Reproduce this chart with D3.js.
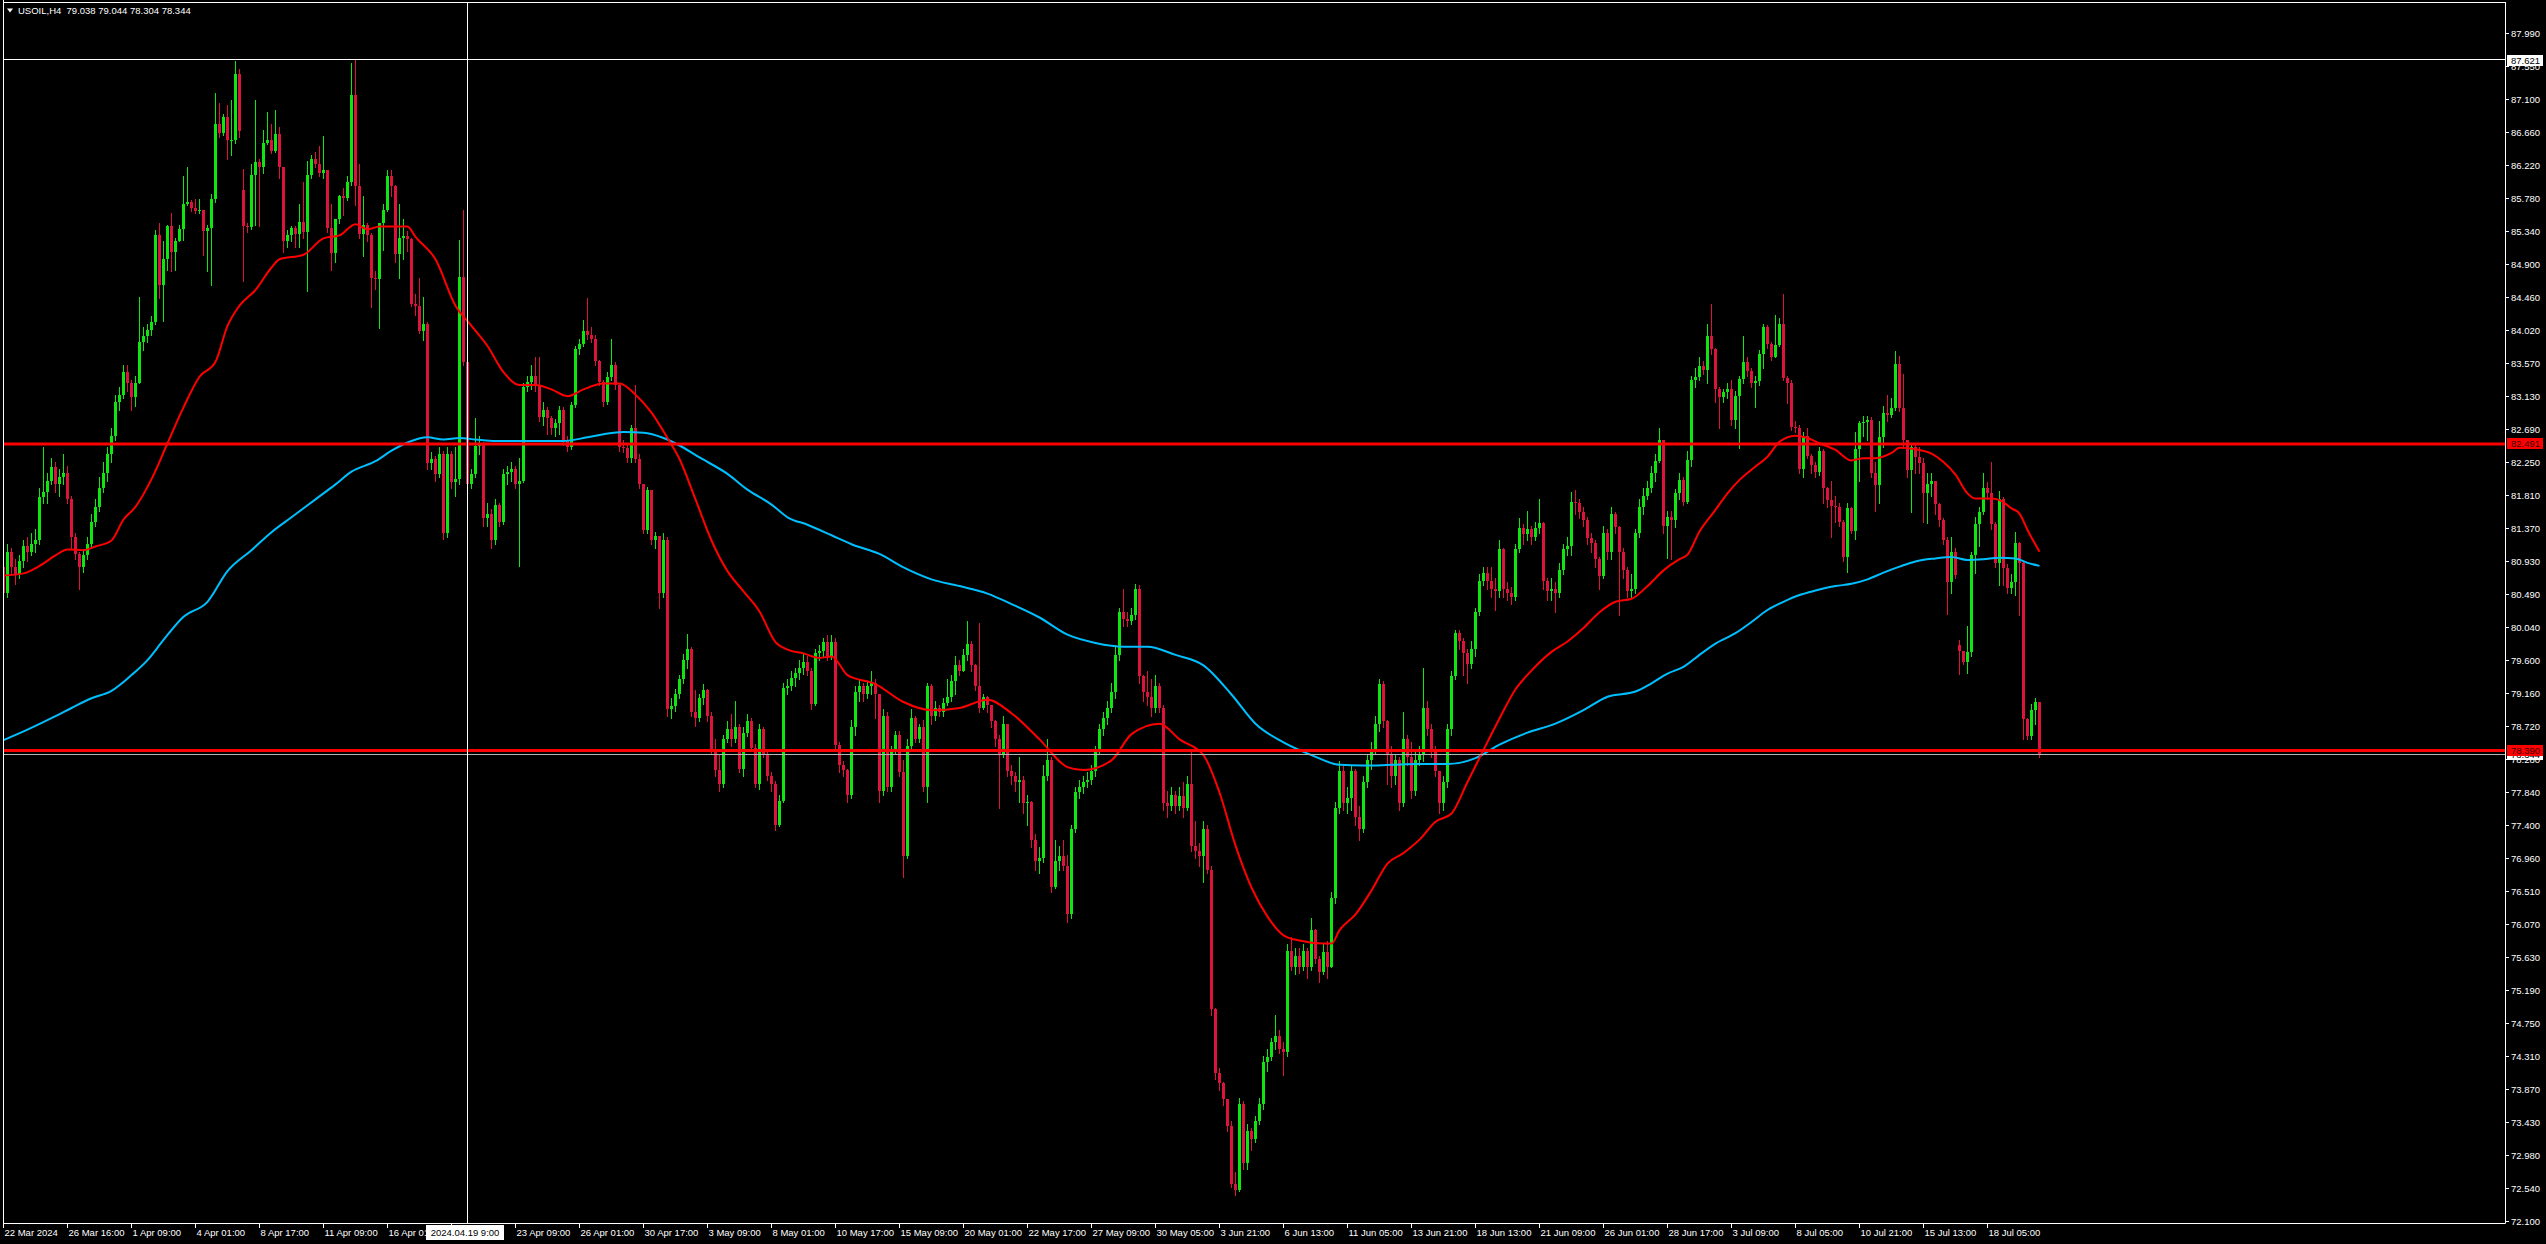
<!DOCTYPE html>
<html><head><meta charset="utf-8">
<script src="https://cdn.jsdelivr.net/npm/d3@7"></script>
<style>html,body{margin:0;padding:0;background:#000;overflow:hidden}</style>
</head><body>
<svg id="c" width="2546" height="1244" xmlns="http://www.w3.org/2000/svg"></svg>
<script>
// ---------------- DATA ----------------
const titleText = "USOIL,H4  79.038 79.044 78.304 78.344";
const firstOpen = 80.85;
// [high, low, close] per H4 bar, open = previous close unless listed in gapOpens
const candles = [
[80.95,80.42,80.50],[81.15,80.45,81.05],[81.10,80.75,80.85],[80.95,80.62,80.75],[81.00,80.70,80.92],[81.20,80.85,81.12],[81.25,80.92,81.05],[81.30,81.00,81.15],[81.35,81.05,81.20],[81.90,81.15,81.78],
[82.45,81.70,81.85],[82.10,81.70,82.00],[82.30,81.95,82.18],[82.25,81.85,81.95],[82.15,81.80,82.05],[82.35,81.95,82.10],[82.20,81.70,81.75],[81.80,81.10,81.25],[81.30,80.95,81.02],[81.05,80.55,80.85],
[81.08,80.78,81.00],[81.25,80.95,81.15],[81.55,81.10,81.45],[81.75,81.40,81.65],[82.05,81.60,81.90],[82.25,81.85,82.10],[82.45,82.00,82.35],[82.70,82.25,82.60],[83.15,82.55,83.05],[83.25,82.95,83.15],
[83.55,83.10,83.45],[83.55,83.20,83.30],[83.35,82.95,83.12],[83.40,83.00,83.30],[84.46,83.30,83.85],[84.05,83.75,83.93],[84.10,83.85,84.02],[84.20,83.95,84.12],[85.35,84.10,85.28],[85.44,84.44,84.62],
[85.20,84.13,84.96],[85.42,84.82,85.41],[85.58,84.80,85.06],[85.25,84.82,85.20],[85.42,85.20,85.37],[86.07,85.22,85.70],[86.19,85.68,85.72],[85.75,85.60,85.64],[85.76,85.58,85.61],[85.77,85.58,85.62],
[85.62,85.02,85.34],[85.42,84.80,85.38],[85.83,84.62,85.77],[87.18,85.72,86.77],[87.05,86.60,86.65],[86.90,86.62,86.86],[87.02,86.30,86.55],[87.09,86.36,86.56],[87.61,86.52,87.44],[87.51,86.59,86.68],
[86.17,84.67,85.41],[85.45,85.32,85.39],[86.24,85.37,86.09],[87.09,85.42,86.26],[86.30,85.41,86.20],[86.69,86.12,86.51],[86.93,86.50,86.55],[86.77,86.38,86.41],[86.96,86.40,86.64],[86.73,86.05,86.20],
[86.20,85.06,85.20],[85.35,85.13,85.29],[85.40,85.20,85.38],[85.40,85.13,85.30],[85.70,85.13,85.46],[86.00,85.25,85.32],[86.27,84.53,86.09],[86.36,86.05,86.30],[86.40,86.20,86.24],[86.48,86.08,86.11],
[86.61,86.05,86.15],[86.15,85.32,85.38],[85.70,84.82,85.05],[85.50,84.93,85.50],[85.82,85.45,85.80],[85.91,85.55,85.78],[86.07,85.75,85.99],[87.59,85.95,87.16],[87.63,85.68,85.94],[86.23,85.25,85.30],
[85.81,85.00,85.42],[85.45,85.20,85.29],[85.31,84.32,84.71],[84.80,84.56,84.70],[85.45,84.04,85.44],[85.70,85.08,85.62],[86.15,85.60,86.07],[86.15,85.81,85.94],[85.95,84.92,85.03],[85.70,84.71,85.25],
[85.50,84.96,85.27],[85.34,85.07,85.23],[85.25,84.34,84.36],[84.49,84.22,84.34],[84.71,83.97,84.00],[84.46,83.88,84.10],[84.12,82.15,82.23],[82.38,82.15,82.29],[82.33,82.00,82.09],[82.45,82.05,82.36],
[82.40,81.22,81.30],[82.45,81.25,82.36],[82.40,81.90,81.98],[82.45,81.80,82.02],[85.22,81.95,84.72],[85.62,83.55,83.59],[83.62,81.85,81.95],[82.15,81.90,82.09],[82.84,82.05,82.47],[82.60,82.35,82.50],
[82.52,81.40,81.50],[81.70,81.40,81.55],[81.62,81.10,81.20],[81.75,81.15,81.68],[81.70,81.40,81.45],[82.15,81.42,82.09],[82.20,81.95,82.12],[82.25,82.00,82.16],[82.20,81.90,81.95],[82.30,80.86,82.00],
[83.30,81.98,83.25],[83.40,83.20,83.32],[83.55,83.22,83.40],[83.66,83.20,83.28],[83.66,82.80,82.85],[83.05,82.74,82.95],[82.98,82.62,82.84],[82.86,82.62,82.70],[82.82,82.60,82.77],[83.00,82.62,82.94],
[82.98,82.48,82.55],[82.60,82.40,82.45],[83.05,82.42,83.01],[83.80,82.98,83.76],[83.90,83.70,83.83],[84.15,83.80,84.00],[84.44,83.90,83.95],[84.05,83.85,83.90],[83.95,83.55,83.60],[83.62,83.28,83.32],
[83.35,83.00,83.05],[83.45,83.02,83.38],[83.90,83.35,83.55],[83.58,83.22,83.28],[83.30,82.40,82.45],[82.55,82.38,82.43],[82.50,82.25,82.30],[82.75,82.25,82.70],[83.28,82.25,82.29],[82.36,81.90,81.95],
[81.95,81.30,81.34],[81.92,81.30,81.88],[81.88,81.15,81.20],[81.32,81.10,81.26],[81.26,80.30,80.50],[81.30,80.45,81.20],[81.24,78.85,78.95],[79.10,78.82,78.98],[79.22,78.92,79.15],[79.40,79.10,79.35],
[79.68,79.30,79.60],[79.95,79.50,79.75],[79.78,78.85,78.90],[79.20,78.72,78.82],[79.15,78.78,79.10],[79.28,79.02,79.20],[79.22,78.78,78.85],[78.90,78.35,78.41],[78.54,78.05,78.13],[78.34,77.85,77.95],
[78.60,77.90,78.54],[78.78,78.50,78.68],[78.88,78.45,78.55],[79.05,78.50,78.70],[78.75,78.10,78.15],[78.70,78.05,78.62],[78.88,78.58,78.78],[78.82,78.38,78.42],[78.48,77.90,77.95],[78.75,77.88,78.68],
[78.70,78.30,78.35],[78.40,78.00,78.05],[78.10,77.85,77.95],[77.98,77.33,77.40],[77.80,77.38,77.72],[79.30,77.70,79.23],[79.35,79.15,79.25],[79.45,79.20,79.36],[79.50,79.25,79.43],[79.60,79.35,79.50],
[79.70,79.42,79.57],[79.65,79.40,79.45],[79.50,78.95,79.02],[79.75,79.00,79.70],[79.80,79.60,79.72],[79.90,79.65,79.84],[79.94,79.60,79.65],[79.94,79.62,79.84],[79.90,78.40,78.47],[78.50,78.10,78.20],
[78.25,78.05,78.13],[78.15,77.70,77.80],[78.80,77.75,78.70],[79.25,78.60,79.18],[79.35,79.05,79.25],[79.30,79.05,79.15],[79.32,79.10,79.25],[79.45,79.15,79.30],[79.35,78.82,79.15],[79.15,77.70,77.85],
[78.95,77.80,78.85],[78.90,77.85,77.90],[78.45,77.85,78.40],[78.65,78.35,78.60],[78.65,78.05,78.10],[78.26,76.70,76.98],[78.55,76.95,78.45],[78.95,78.40,78.82],[78.85,78.50,78.55],[78.75,78.50,78.70],
[78.80,77.85,77.90],[79.30,77.70,79.25],[79.28,78.75,78.85],[79.05,78.80,78.96],[79.00,78.85,78.90],[79.10,78.85,79.03],[79.35,79.00,79.11],[79.40,79.05,79.32],[79.65,79.15,79.53],[79.60,79.40,79.46],
[79.75,79.45,79.67],[80.12,79.60,79.81],[79.85,79.45,79.53],[79.55,79.20,79.25],[80.10,78.90,78.96],[79.15,78.95,79.11],[79.12,78.90,79.00],[79.00,78.70,78.78],[78.80,78.45,78.54],[78.60,77.62,78.33],
[78.85,78.30,78.75],[78.75,78.05,78.12],[78.20,77.95,78.05],[78.10,77.85,77.97],[78.30,77.70,78.00],[78.05,77.55,77.69],[77.80,77.40,77.70],[77.72,77.10,77.20],[77.27,76.80,76.91],[77.10,76.75,76.95],
[78.20,76.90,78.05],[78.55,78.00,78.26],[78.30,76.50,76.56],[77.20,76.55,76.91],[77.12,76.80,76.98],[77.20,76.80,76.85],[77.00,76.10,76.20],[77.40,76.15,77.34],[77.90,77.30,77.83],[78.00,77.75,77.90],
[78.05,77.82,77.97],[78.10,77.90,78.00],[78.20,77.95,78.12],[78.45,78.05,78.40],[78.75,78.35,78.68],[78.90,78.60,78.82],[79.05,78.75,78.96],[79.30,78.90,79.18],[79.80,79.10,79.67],[80.30,79.60,80.24],
[80.55,80.05,80.15],[80.25,80.05,80.12],[80.30,80.08,80.20],[80.62,80.15,80.55],[80.60,79.30,79.39],[79.40,79.05,79.18],[79.45,79.00,79.11],[79.35,78.85,78.96],[79.40,78.90,79.25],[79.30,78.90,78.96],
[79.00,77.60,77.69],[77.85,77.50,77.65],[77.90,77.60,77.80],[77.85,77.55,77.65],[77.90,77.60,77.78],[77.97,77.50,77.62],[78.05,77.60,77.95],[78.40,77.05,77.12],[77.45,76.95,77.05],[77.15,76.85,76.98],
[77.45,76.63,77.34],[77.40,76.75,76.80],[76.85,74.85,74.93],[74.95,74.00,74.08],[74.15,73.85,73.94],[73.96,73.65,73.73],[73.62,73.30,73.37],[73.44,72.55,72.59],[72.75,72.45,72.52],[73.75,72.50,73.66],
[73.70,72.80,72.88],[73.40,72.80,73.30],[73.35,73.05,73.20],[73.50,73.15,73.44],[73.75,73.40,73.66],[74.30,73.60,74.22],[74.40,74.10,74.29],[74.55,74.25,74.50],[74.85,74.40,74.58],[74.65,74.35,74.40],
[74.50,74.05,74.36],[75.80,74.30,75.71],[75.90,75.45,75.50],[75.75,75.40,75.64],[75.75,75.42,75.50],[75.80,75.45,75.71],[75.75,75.35,75.50],[76.15,75.45,75.99],[76.00,75.55,75.60],[75.65,75.30,75.43],
[75.80,75.40,75.70],[75.85,75.35,75.50],[76.50,75.50,76.42],[77.70,76.35,77.62],[78.25,77.55,78.12],[78.20,77.60,77.69],[77.90,77.55,77.75],[78.20,77.60,78.12],[78.15,77.40,77.50],[77.65,77.20,77.34],
[78.05,77.30,77.97],[78.35,77.90,78.26],[78.50,78.15,78.40],[78.85,78.35,78.75],[79.35,78.65,79.28],[79.32,78.70,78.78],[78.80,77.95,78.35],[78.45,77.90,78.05],[78.35,77.95,78.26],[78.30,77.60,77.69],
[78.90,77.65,78.54],[78.60,78.20,78.30],[78.50,77.75,77.85],[78.40,77.80,78.26],[78.45,78.20,78.33],[79.50,78.25,78.96],[79.05,78.60,78.68],[78.75,78.30,78.40],[78.45,78.05,78.12],[78.10,77.55,77.69],
[78.05,77.60,77.97],[78.75,77.90,78.68],[79.45,78.60,79.39],[80.00,79.35,79.96],[80.00,79.75,79.85],[79.90,79.40,79.70],[79.75,79.30,79.55],[79.85,79.50,79.75],[80.30,79.65,80.24],[80.75,80.20,80.66],
[80.85,80.60,80.77],[80.85,80.55,80.66],[80.85,80.45,80.55],[80.70,80.27,80.52],[81.20,80.45,81.09],[81.10,80.45,80.55],[80.65,80.40,80.50],[80.58,80.35,80.45],[81.15,80.40,81.09],[81.50,81.05,81.37],
[81.42,81.15,81.28],[81.60,81.20,81.35],[81.40,81.15,81.25],[81.45,81.20,81.37],[81.75,81.30,81.44],[81.45,80.55,80.66],[80.70,80.40,80.52],[80.70,80.40,80.55],[80.65,80.25,80.50],[80.90,80.45,80.80],
[81.15,80.75,81.09],[81.25,81.00,81.12],[81.85,81.00,81.72],[81.87,81.55,81.70],[81.75,81.50,81.58],[81.65,81.40,81.48],[81.52,81.15,81.23],[81.30,81.05,81.16],[81.20,80.85,80.95],[80.98,80.55,80.73],
[81.40,80.70,81.30],[81.35,80.95,81.05],[81.65,80.95,81.55],[81.58,81.30,81.38],[81.40,80.20,81.05],[81.10,80.70,80.80],[80.85,80.45,80.52],[80.75,80.45,80.55],[81.35,80.50,81.30],[81.75,81.25,81.65],
[81.90,81.55,81.80],[82.00,81.75,81.90],[82.20,81.85,82.10],[82.35,82.00,82.26],[82.70,82.25,82.54],[82.55,81.30,81.40],[81.60,80.96,81.52],[81.60,80.95,81.47],[81.89,81.38,81.83],[82.10,81.75,82.01],
[82.05,81.68,81.72],[82.40,81.70,82.28],[83.40,82.20,83.35],[83.50,83.25,83.38],[83.65,83.35,83.53],[83.60,83.42,83.48],[84.10,83.30,83.93],[84.36,83.70,83.76],[83.78,83.05,83.22],[83.25,82.70,83.12],
[83.22,83.05,83.19],[83.30,83.10,83.23],[83.35,82.75,82.81],[83.20,82.70,83.13],[83.40,82.43,83.36],[83.93,83.30,83.59],[83.65,83.40,83.47],[83.50,83.25,83.30],[83.40,82.98,83.33],[83.75,83.28,83.69],
[84.10,83.50,84.06],[84.08,83.78,83.83],[83.85,83.62,83.66],[84.21,83.65,83.81],[84.17,83.80,84.09],[84.50,83.35,83.37],[83.40,83.04,83.30],[83.35,82.68,82.72],[82.80,82.65,82.70],[82.75,82.10,82.15],
[82.65,82.05,82.60],[82.70,82.30,82.33],[82.35,82.10,82.21],[82.25,82.05,82.12],[82.45,82.08,82.39],[82.42,81.70,81.90],[81.92,81.65,81.74],[82.00,81.25,81.66],[81.80,81.45,81.65],[81.70,81.40,81.45],
[81.47,80.93,80.98],[81.70,80.78,81.63],[81.65,81.30,81.33],[82.65,81.22,82.42],[82.80,82.00,82.77],[82.86,82.60,82.79],[82.87,82.55,82.81],[82.85,82.05,82.10],[82.25,81.60,81.94],[82.80,81.70,82.59],
[83.00,82.45,82.90],[83.15,82.80,82.88],[83.10,82.85,82.97],[83.73,82.95,83.56],[83.67,82.93,82.97],[83.43,82.45,82.54],[82.55,82.05,82.14],[82.50,81.58,82.45],[82.50,82.10,82.31],[82.45,82.10,82.24],
[82.30,81.45,81.83],[82.10,81.43,81.95],[82.10,81.80,81.99],[81.95,81.55,81.69],[81.70,81.40,81.47],[81.50,81.15,81.20],[81.25,80.22,80.65],[81.25,80.50,81.05],[81.10,80.70,80.74],[79.87,79.42,79.72],
[79.72,79.55,79.58],[80.05,79.43,79.71],[81.05,79.65,81.01],[81.52,80.77,81.42],[81.65,81.13,81.58],[82.10,81.55,81.90],[81.98,81.75,81.83],[82.25,81.35,81.42],[81.45,80.85,80.90],[81.86,80.60,81.76],
[81.78,80.60,80.83],[80.88,80.50,80.56],[80.75,80.50,80.65],[81.32,80.47,81.16],[81.18,80.20,80.90],[80.93,78.55,78.81],[78.83,78.54,78.59],[79.02,78.55,78.93],[79.10,78.75,79.038],[79.044,78.304,78.344]
];
const gapOpens = [[60, 85.89], [489, 79.80]];

// moving averages: [bar, value]
const maFast = [[0,80.73],[5,80.76],[9,80.86],[13,81.00],[16,81.08],[20,81.07],[23,81.12],[27,81.20],[30,81.48],[33,81.65],[37,82.02],[41,82.50],[45,82.98],[49,83.39],[53,83.59],[56,84.07],[59,84.34],[63,84.55],[67,84.85],[69,84.96],[75,85.02],[80,85.24],[84,85.28],[88,85.43],[91,85.36],[94,85.40],[97,85.40],[101,85.40],[103,85.26],[108,84.96],[113,84.34],[117,84.07],[121,83.80],[125,83.45],[129,83.28],[133,83.28],[137,83.22],[141,83.13],[145,83.22],[150,83.30],[154,83.30],[158,83.15],[162,82.91],[166,82.57],[169,82.29],[173,81.75],[177,81.20],[181,80.79],[185,80.52],[189,80.25],[193,79.84],[196,79.74],[200,79.69],[204,79.63],[207,79.65],[211,79.40],[218,79.28],[225,79.04],[232,78.93],[239,78.96],[246,79.07],[252,78.89],[259,78.54],[266,78.17],[270,78.13],[277,78.26],[282,78.61],[289,78.75],[294,78.54],[300,78.33],[304,77.83],[308,77.12],[312,76.56],[316,76.17],[320,75.92],[324,75.85],[330,75.81],[332,75.81],[334,75.99],[338,76.20],[342,76.52],[346,76.88],[350,77.02],[354,77.20],[358,77.44],[362,77.55],[366,77.97],[370,78.40],[374,78.82],[378,79.21],[382,79.46],[387,79.71],[391,79.85],[395,80.03],[399,80.24],[403,80.38],[407,80.42],[411,80.59],[415,80.80],[419,80.95],[421,81.01],[424,81.32],[428,81.61],[431,81.83],[434,82.01],[438,82.19],[441,82.32],[444,82.52],[448,82.60],[451,82.57],[454,82.50],[458,82.41],[462,82.27],[465,82.30],[468,82.30],[472,82.37],[474,82.44],[478,82.42],[482,82.36],[485,82.25],[488,82.08],[491,81.83],[493,81.76],[497,81.76],[499,81.74],[502,81.63],[504,81.56],[506,81.34],[509,81.05]];
const maSlow = [[0,78.53],[6,78.67],[13,78.85],[17,78.96],[22,79.09],[27,79.19],[32,79.40],[36,79.60],[40,79.87],[45,80.18],[51,80.38],[56,80.79],[62,81.07],[67,81.31],[72,81.51],[78,81.75],[83,81.95],[87,82.12],[93,82.26],[97,82.40],[101,82.51],[106,82.58],[110,82.55],[114,82.57],[118,82.55],[123,82.53],[128,82.53],[133,82.53],[140,82.53],[146,82.58],[150,82.62],[155,82.65],[160,82.64],[165,82.57],[169,82.47],[174,82.31],[181,82.09],[186,81.88],[192,81.68],[196,81.51],[201,81.41],[207,81.27],[212,81.15],[219,81.02],[225,80.84],[232,80.68],[239,80.59],[246,80.49],[252,80.35],[259,80.17],[266,79.94],[273,79.83],[280,79.78],[286,79.78],[293,79.67],[300,79.53],[307,79.14],[313,78.75],[320,78.50],[327,78.33],[334,78.20],[340,78.19],[347,78.20],[354,78.21],[361,78.21],[368,78.29],[374,78.47],[381,78.63],[388,78.75],[395,78.93],[401,79.11],[408,79.18],[412,79.29],[416,79.42],[420,79.51],[424,79.67],[428,79.82],[433,79.96],[437,80.11],[441,80.27],[445,80.38],[449,80.47],[453,80.53],[458,80.59],[462,80.62],[466,80.68],[470,80.77],[474,80.85],[478,80.92],[483,80.96],[487,80.98],[491,80.94],[495,80.95],[499,80.97],[503,80.96],[506,80.90],[509,80.86]];

const priceTicks = [87.990,87.550,87.100,86.660,86.220,85.780,85.340,84.900,84.460,84.020,83.570,83.130,82.690,82.250,81.810,81.370,80.930,80.490,80.040,79.600,79.160,78.720,78.280,77.840,77.400,76.960,76.510,76.070,75.630,75.190,74.750,74.310,73.870,73.430,72.980,72.540,72.100];
const timeLabels = ["22 Mar 2024","26 Mar 16:00","1 Apr 09:00","4 Apr 01:00","8 Apr 17:00","11 Apr 09:00","16 Apr 01:00","18 Apr 17:00","23 Apr 09:00","26 Apr 01:00","30 Apr 17:00","3 May 09:00","8 May 01:00","10 May 17:00","15 May 09:00","20 May 01:00","22 May 17:00","27 May 09:00","30 May 05:00","3 Jun 21:00","6 Jun 13:00","11 Jun 05:00","13 Jun 21:00","18 Jun 13:00","21 Jun 09:00","26 Jun 01:00","28 Jun 17:00","3 Jul 09:00","8 Jul 05:00","10 Jul 21:00","15 Jul 13:00","18 Jul 05:00"];
const barsPerTimeLabel = 16;
const levelLines = [82.491, 78.390];
const bidPrice = 78.344;
const crossBar = 116, crossPrice = 87.621, crossTimeText = "2024.04.19 9:00";

// ---------------- RENDER ----------------
const W = 2546, H = 1244;
const plot = {left: 3, top: 2, right: 2505, bottom: 1223};
const FONT = '"Liberation Sans", Arial, sans-serif';
const FS = 9.5;
const bull = "#0fe60f", bear = "#dc143c";

const svg = d3.select("#c");
svg.append("rect").attr("width", W).attr("height", H).attr("fill", "#000");

const x = d3.scaleLinear().domain([0, candles.length - 1]).range([3.5, 3.5 + 4 * (candles.length - 1)]);
const y = d3.scaleLinear().domain([72.10, 87.99]).range([1221, 32.7]);

const gapMap = new Map(gapOpens);
const bars = candles.map((d, i) => {
  const o = i === 0 ? firstOpen : (gapMap.has(i) ? gapMap.get(i) : candles[i - 1][2]);
  const c = d[2];
  return {i, o, c, h: Math.max(d[0], o, c), l: Math.min(d[1], o, c)};
});

const defs = svg.append("defs");
defs.append("clipPath").attr("id", "pc")
  .append("rect").attr("x", plot.left).attr("y", plot.top)
  .attr("width", plot.right - plot.left).attr("height", plot.bottom - plot.top);
const g = svg.append("g").attr("clip-path", "url(#pc)");

// candles
const cg = g.append("g");
cg.selectAll("line.w").data(bars).join("line")
  .attr("x1", d => x(d.i)).attr("x2", d => x(d.i))
  .attr("y1", d => Math.round(y(d.h))).attr("y2", d => Math.round(y(d.l)) + 1)
  .attr("stroke", d => d.c >= d.o ? bull : bear).attr("stroke-width", 1);
cg.selectAll("rect.b").data(bars).join("rect")
  .attr("x", d => x(d.i) - 1.5).attr("width", 3)
  .attr("y", d => Math.round(y(Math.max(d.o, d.c))))
  .attr("height", d => Math.max(1, Math.round(y(Math.min(d.o, d.c))) - Math.round(y(Math.max(d.o, d.c)))))
  .attr("fill", d => d.c >= d.o ? bull : bear);

// moving averages
const line = d3.line().x(d => x(d[0])).y(d => y(d[1])).curve(d3.curveMonotoneX);
g.append("path").attr("d", line(maSlow)).attr("fill", "none").attr("stroke", "#00bfff").attr("stroke-width", 2);
g.append("path").attr("d", line(maFast)).attr("fill", "none").attr("stroke", "#ff0000").attr("stroke-width", 2);

// bid line
g.append("line").attr("x1", plot.left).attr("x2", plot.right)
  .attr("y1", Math.round(y(bidPrice)) + 0.5).attr("y2", Math.round(y(bidPrice)) + 0.5)
  .attr("stroke", "#b4b4b4").attr("stroke-width", 1);

// horizontal levels
levelLines.forEach(p => {
  g.append("line").attr("x1", plot.left).attr("x2", plot.right)
    .attr("y1", y(p)).attr("y2", y(p)).attr("stroke", "#ff0000").attr("stroke-width", 3);
});

// crosshair
const cx = x(crossBar), cy = Math.round(y(crossPrice)) - 0.5;
svg.append("line").attr("x1", cx).attr("x2", cx).attr("y1", plot.top).attr("y2", plot.bottom)
  .attr("stroke", "#fff").attr("stroke-width", 1);
svg.append("line").attr("x1", plot.left).attr("x2", plot.right).attr("y1", cy).attr("y2", cy)
  .attr("stroke", "#fff").attr("stroke-width", 1);

// frame
const fr = svg.append("g").attr("stroke", "#fff").attr("stroke-width", 1);
fr.append("line").attr("x1", plot.left + 0.5).attr("x2", plot.left + 0.5).attr("y1", 0).attr("y2", plot.bottom + 0.5);
fr.append("line").attr("x1", plot.left).attr("x2", plot.right + 0.5).attr("y1", plot.top + 0.5).attr("y2", plot.top + 0.5);
fr.append("line").attr("x1", plot.left).attr("x2", plot.right + 0.5).attr("y1", plot.bottom + 0.5).attr("y2", plot.bottom + 0.5);
fr.append("line").attr("x1", plot.right + 0.5).attr("x2", plot.right + 0.5).attr("y1", plot.top).attr("y2", plot.bottom + 0.5);

// price axis
const pa = svg.append("g");
priceTicks.forEach(p => {
  const yy = Math.round(y(p)) + 0.5;
  pa.append("line").attr("x1", plot.right + 1).attr("x2", plot.right + 4).attr("y1", yy).attr("y2", yy).attr("stroke", "#fff");
  pa.append("text").attr("x", plot.right + 6).attr("y", yy + 3.5).text(p.toFixed(3))
    .attr("fill", "#fff").attr("font-family", FONT).attr("font-size", FS);
});

function priceLabel(p, bg, fg, txt) {
  const yy = y(p);
  pa.append("rect").attr("x", plot.right + 2).attr("y", Math.round(yy - 5.5)).attr("width", 36).attr("height", 11).attr("fill", bg);
  pa.append("text").attr("x", plot.right + 6).attr("y", Math.round(yy - 5.5) + 9).text(txt)
    .attr("fill", fg).attr("font-family", FONT).attr("font-size", FS);
}
priceLabel(bidPrice, "#ffffff", "#000000", bidPrice.toFixed(3));
levelLines.forEach(p => priceLabel(p, "#ff0000", "#3a0000", p.toFixed(3)));
priceLabel(crossPrice, "#ffffff", "#000000", crossPrice.toFixed(3));

// time axis (crosshair date box covers labels beneath it, as in the terminal)
const boxX = cx - 41.5, boxW = 78;
defs.append("clipPath").attr("id", "tc")
  .append("rect").attr("x", 0).attr("y", plot.bottom).attr("width", boxX).attr("height", 30);
const ta = svg.append("g");
timeLabels.forEach((t, k) => {
  const xx = x(k * barsPerTimeLabel);
  ta.append("line").attr("x1", xx).attr("x2", xx).attr("y1", plot.bottom + 1).attr("y2", plot.bottom + 5).attr("stroke", "#fff");
  if (xx + 1 >= boxX && xx + 1 <= boxX + boxW) return; // fully hidden under the date box
  const tx = ta.append("text").attr("x", xx + 1).attr("y", 1236).text(t)
    .attr("fill", "#fff").attr("font-family", FONT).attr("font-size", FS);
  if (xx < boxX && xx + 60 > boxX) tx.attr("clip-path", "url(#tc)");
});
ta.append("rect").attr("x", boxX).attr("y", plot.bottom + 2).attr("width", boxW).attr("height", 15).attr("fill", "#fff");
ta.append("text").attr("x", cx - 2.5).attr("y", 1236).attr("text-anchor", "middle").text(crossTimeText)
  .attr("fill", "#000").attr("font-family", FONT).attr("font-size", FS);

// title
svg.append("path").attr("d", "M7,8.5 L13,8.5 L10,12.5 Z").attr("fill", "#fff");
svg.append("text").attr("x", 18).attr("y", 14).attr("xml:space", "preserve").style("white-space", "pre")
  .text(titleText).attr("fill", "#fff").attr("font-family", FONT).attr("font-size", FS);
</script>
</body></html>
